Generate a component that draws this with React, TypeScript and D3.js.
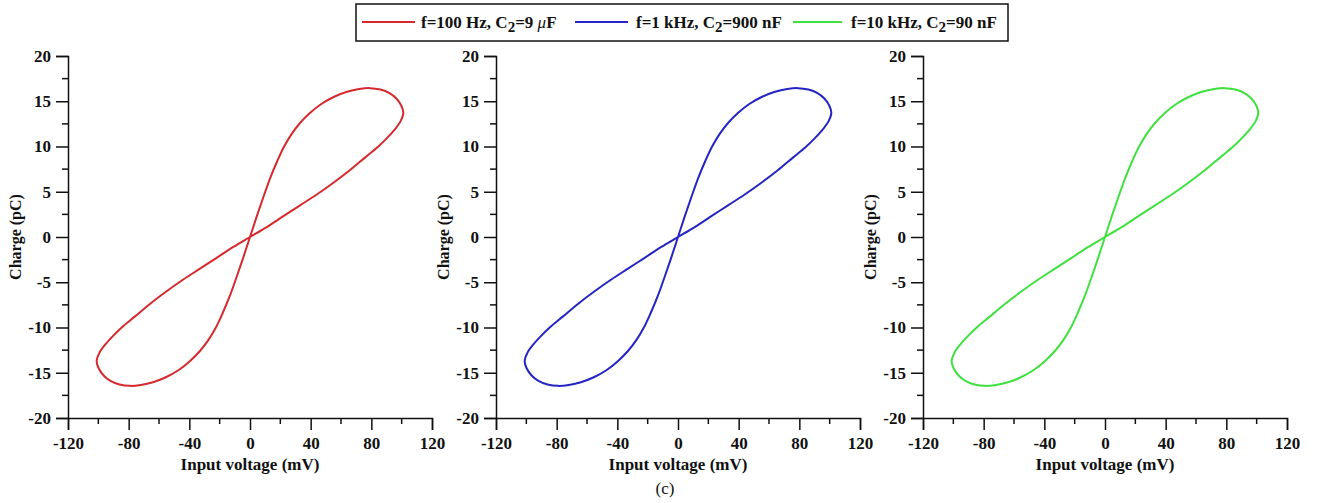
import React, { useRef, useEffect } from "react";
import * as d3 from "d3";

// traced loop, one full period: origin -> upper lobe -> origin -> lower lobe -> origin
const voltage = [
  0, 4.5, 9, 13.5, 18, 22.5, 27.5, 33, 39.5, 47, 55.5, 64, 72, 79, 86, 92, 96.5, 99.8, 101.1,
  99.3, 95.5, 90.1, 84.6, 76, 66, 55, 44, 33, 22, 11,
  0, -11, -22, -33, -44, -55, -66, -76, -84.6, -90.1, -95.5, -99.3, -101.1, -99.8, -96.5,
  -92, -86, -79, -72, -64, -55.5, -47, -39.5, -33, -27.5, -22.5, -18, -13.5, -9, -4.5,
];
const charge = [
  0, 2.3, 4.5, 6.6, 8.4, 10.0, 11.4, 12.6, 13.7, 14.7, 15.5, 16.05, 16.35, 16.45, 16.3, 15.9,
  15.3, 14.5, 13.7, 12.8, 11.9, 10.9, 10.0, 8.8, 7.4, 6.0, 4.7, 3.5, 2.3, 1.1,
  0, -1.1, -2.3, -3.5, -4.7, -6.0, -7.4, -8.8, -10.0, -10.9, -11.9, -12.8, -13.7, -14.5,
  -15.3, -15.9, -16.3, -16.45, -16.35, -16.05, -15.5, -14.7, -13.7, -12.6, -11.4, -10.0, -8.4,
  -6.6, -4.5, -2.3,
];

const seriesNames = ["f=100 Hz, C", "f=1 kHz, C", "f=10 kHz, C"];
const seriesSub = ["2", "2", "2"];
const seriesTail = ["=9 ", "=900 nF", "=90 nF"];
const seriesColors = ["#d42a2e", "#2525c4", "#3fe03f"];

const xTicks = [-120, -80, -40, 0, 40, 80, 120];
const yTicks = [-20, -15, -10, -5, 0, 5, 10, 15, 20];

const font = "'Liberation Serif', 'Times New Roman', serif";

const App = () => {
  const svgRef = useRef(null);

  useEffect(() => {
    const svg = d3.select(svgRef.current);
    svg.selectAll("*").remove();

    const panelLeft = [68, 496, 923];
    const panelW = 364;
    const top = 56;
    const bottom = 418;

    const y = d3.scaleLinear().domain([-20, 20]).range([bottom, top]);
    const pts = voltage.map((v, i) => [v, charge[i]]);

    panelLeft.forEach((left, k) => {
      const x = d3.scaleLinear().domain([-120, 120]).range([left, left + panelW]);
      const g = svg.append("g");

      // minor ticks
      g.selectAll(".mx")
        .data(d3.range(-100, 120, 40))
        .enter()
        .append("line")
        .attr("x1", (d) => x(d))
        .attr("x2", (d) => x(d))
        .attr("y1", bottom)
        .attr("y2", bottom + 6)
        .attr("stroke", "#111")
        .attr("stroke-width", 1.5);
      g.selectAll(".my")
        .data(d3.range(-17.5, 20, 5))
        .enter()
        .append("line")
        .attr("x1", left)
        .attr("x2", left - 6)
        .attr("y1", (d) => y(d))
        .attr("y2", (d) => y(d))
        .attr("stroke", "#111")
        .attr("stroke-width", 1.5);

      // axes
      const fmt = (d) => String(d);
      const xAxis = d3.axisBottom(x).tickValues(xTicks).tickFormat(fmt).tickSize(12).tickPadding(7);
      const yAxis = d3.axisLeft(y).tickValues(yTicks).tickFormat(fmt).tickSize(12).tickPadding(5);
      const gx = g.append("g").attr("transform", `translate(0,${bottom})`).call(xAxis);
      const gy = g.append("g").attr("transform", `translate(${left},0)`).call(yAxis);
      [gx, gy].forEach((a) => {
        a.select(".domain").attr("stroke", "#111").attr("stroke-width", 1.5);
        a.selectAll(".tick line").attr("stroke", "#111").attr("stroke-width", 1.5);
        a.selectAll(".tick text")
          .attr("fill", "#111")
          .style("font-family", font)
          .style("font-weight", "bold")
          .style("font-size", "17px");
      });

      g.append("text")
        .attr("x", left + panelW / 2)
        .attr("y", 470)
        .attr("text-anchor", "middle")
        .style("font-family", font)
        .style("font-weight", "bold")
        .style("font-size", "17px")
        .attr("fill", "#111")
        .text("Input voltage (mV)");

      g.append("text")
        .attr("transform", `translate(${left - 47},${(top + bottom) / 2}) rotate(-90)`)
        .attr("text-anchor", "middle")
        .style("font-family", font)
        .style("font-weight", "bold")
        .style("font-size", "16px")
        .attr("fill", "#111")
        .text("Charge (pC)");

      const line = d3
        .line()
        .x((d) => x(d[0]))
        .y((d) => y(d[1]))
        .curve(d3.curveCatmullRomClosed.alpha(0.5));

      g.append("path")
        .datum(pts)
        .attr("fill", "none")
        .attr("stroke", seriesColors[k])
        .attr("stroke-width", 2)
        .attr("d", line);
    });

    // legend
    const leg = svg.append("g");
    leg.append("rect")
      .attr("x", 356)
      .attr("y", 4)
      .attr("width", 652)
      .attr("height", 37)
      .attr("fill", "white")
      .attr("stroke", "#111")
      .attr("stroke-width", 1.5);

    const lineX = [362, 575, 793];
    const lineW = [53, 53, 49];
    const textX = [421, 636, 851];
    seriesNames.forEach((name, i) => {
      leg.append("line")
        .attr("x1", lineX[i])
        .attr("x2", lineX[i] + lineW[i])
        .attr("y1", 22)
        .attr("y2", 22)
        .attr("stroke", seriesColors[i])
        .attr("stroke-width", 2);
      const t = leg.append("text")
        .attr("x", textX[i])
        .attr("y", 28)
        .style("font-family", font)
        .style("font-weight", "bold")
        .style("font-size", "17px")
        .attr("fill", "#111");
      t.append("tspan").text(name);
      t.append("tspan").attr("dy", 4).style("font-size", "15px").text(seriesSub[i]);
      t.append("tspan").attr("dy", -4).text(seriesTail[i]);
      if (i === 0) {
        t.append("tspan").style("font-style", "italic").style("font-weight", "normal").text("\u03bc");
        t.append("tspan").text("F");
      }
    });

    svg.append("text")
      .attr("x", 665)
      .attr("y", 494)
      .attr("text-anchor", "middle")
      .style("font-family", font)
      .style("font-size", "17px")
      .attr("fill", "#111")
      .text("(c)");
  }, []);

  return (
    <svg
      ref={svgRef}
      width={1323}
      height={503}
      style={{ position: "absolute", left: 0, top: 0, background: "white" }}
    ></svg>
  );
};

export default App;
